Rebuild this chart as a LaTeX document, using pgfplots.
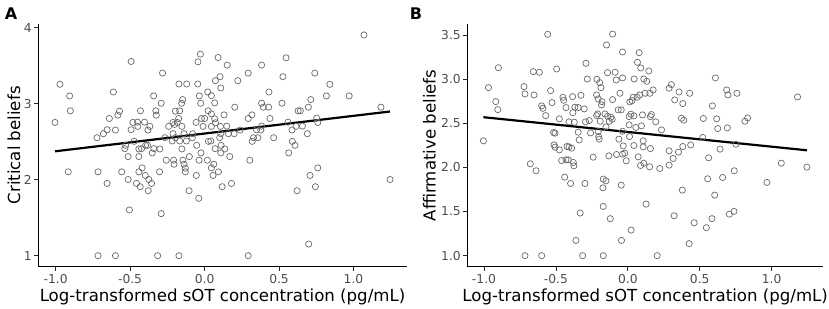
\documentclass[border=0pt]{standalone}
\usepackage{pgfplots}
\pgfplotsset{compat=1.18}
\usepackage{fontspec}
\setmainfont{DejaVu Sans}
\definecolor{ptcol}{RGB}{105,105,105}
\definecolor{tickcol}{RGB}{77,77,77}
\pgfplotsset{
  myaxis/.style={
    scale only axis, anchor=south west,
    axis x line*=bottom, axis y line*=left,
    axis line style={-, black, line width=0.8pt},
    tick align=outside, major tick length=4pt,
    tick style={black!85, line width=0.8pt},
    xmin=-1.116, xmax=1.357,
    xtick={-1,-0.5,0,0.5,1},
    xticklabels={-1.0,-0.5,0.0,0.5,1.0},
    tick label style={font=\fontsize{12.3}{13}\selectfont, text=tickcol},
    yticklabel style={xshift=1pt},
    label style={font=\fontsize{16.6}{17}\selectfont},
    xlabel={Log-transformed sOT concentration (pg/mL)},
    xlabel style={at={(axis description cs:0.5,0)}, anchor=center, yshift=-30pt},
  },
  pts/.style={only marks, mark=o, mark size=3.1pt, mark options={draw=ptcol, line width=0.7pt}},
}
\begin{document}
\begin{tikzpicture}
\path[use as bounding box] (0,0) rectangle (829pt,308pt);
\node[font=\fontsize{16}{16}\selectfont\bfseries] at (11pt,294pt) {A};
\node[font=\fontsize{16}{16}\selectfont\bfseries] at (416pt,294pt) {B};
\begin{axis}[myaxis,
  at={(38.3pt,41.3pt)}, width=368.4pt, height=242.7pt,
  ymin=0.855, ymax=4.05, ytick={1,2,3,4}, yticklabels={1,2,3,4},
  ylabel={Critical beliefs},
  ylabel style={at={(axis description cs:-0.0660,0.5)}, anchor=center},
]
\addplot[pts] coordinates {
(-0.028,3.653) (-0.044,3.552) (0.091,3.609) (-0.493,3.557) (-0.282,3.404) (0.104,3.356) (0.073,3.304)
(-0.971,3.256) (-0.612,3.155) (-0.906,3.103) (-0.172,3.260) (-0.120,3.260) (-0.046,3.260) (0.109,3.208)
(-0.342,3.103) (0.021,3.155) (-0.035,3.103) (0.046,3.107) (-0.147,3.055) (-0.154,3.007) (-0.026,3.007)
(-0.291,3.007) (0.068,3.011) (-0.901,2.907) (-0.571,2.902) (-0.582,2.850) (-0.639,2.806) (-0.430,2.907)
(-0.327,2.907) (-0.324,2.850) (-0.196,2.902) (-0.167,2.907) (0.024,2.907) (0.046,2.867) (-0.021,2.806)
(0.001,2.806) (0.068,2.802) (-0.174,2.806) (-1.004,2.754) (-0.481,2.754) (-0.450,2.758) (-0.403,2.758)
(-0.448,2.702) (-0.493,2.658) (-0.367,2.702) (-0.212,2.754) (-0.201,2.728) (-0.183,2.754) (-0.152,2.702)
(-0.241,2.702) (-0.057,2.754) (-0.010,2.702) (0.046,2.702) (0.073,2.750) (0.107,2.702) (-0.654,2.658)
(-0.598,2.654) (-0.679,2.606) (-0.722,2.553) (-0.380,2.654) (-0.080,2.606) (-0.138,2.606) (-0.212,2.606)
(0.109,2.606) (-0.266,2.553) (-0.196,2.553) (-0.082,2.553) (0.026,2.505) (0.042,2.510) (0.102,2.553)
(-0.473,2.505) (-0.217,2.510) (-0.167,2.510) (-0.122,2.510) (0.111,2.453) (-0.529,2.453) (-0.535,2.409)
(-0.340,2.409) (-0.300,2.405) (-0.441,2.405) (-0.423,2.409) (-0.396,2.453) (-0.383,2.453) (-0.152,2.405)
(-0.053,2.453) (0.071,2.409) (0.109,2.353) (-0.513,2.305) (-0.441,2.305) (-0.351,2.353) (-0.024,2.353)
(-0.102,2.305) (-0.208,2.257) (-0.257,2.257) (-0.145,2.257) (-0.037,2.257) (0.019,2.257) (0.062,2.204)
(-0.915,2.104) (-0.715,2.104) (-0.556,2.104) (-0.419,2.156) (-0.441,2.104) (-0.302,2.104) (-0.205,2.204)
(-0.138,2.204) (-0.129,2.152) (-0.129,2.104) (0.046,2.156) (0.093,2.104) (0.057,2.056) (-0.654,1.951)
(-0.513,2.003) (-0.457,1.951) (-0.398,2.056) (-0.374,2.003) (-0.356,1.951) (-0.432,1.908) (-0.378,1.855)
(-0.055,2.056) (-0.104,1.855) (-0.039,1.755) (0.118,1.908) (-0.504,1.602) (-0.291,1.554)
(-0.715,1.0) (-0.598,1.0) (-0.315,1.0) (-0.172,1.0)
(1.070,3.906) (0.547,3.605) (0.152,3.509) (0.383,3.509) (0.293,3.404) (0.740,3.404) (0.223,3.304)
(0.526,3.356) (0.841,3.256) (0.432,3.155) (0.818,3.103) (0.971,3.103) (0.713,3.055) (0.383,3.007)
(0.520,3.007) (0.203,2.955) (0.394,2.955) (0.430,2.955) (0.697,2.955) (1.184,2.955) (0.628,2.907)
(0.643,2.907) (0.131,2.854) (0.318,2.854) (0.293,2.806) (0.439,2.806) (0.753,2.811) (0.760,2.754)
(0.560,2.758) (0.149,2.706) (0.383,2.706) (0.657,2.706) (0.614,2.702) (0.587,2.654) (0.349,2.658)
(0.378,2.654) (0.239,2.654) (0.160,2.606) (0.199,2.606) (0.690,2.606) (0.329,2.553) (0.358,2.553)
(0.464,2.553) (0.320,2.505) (0.589,2.505) (0.607,2.453) (0.136,2.405) (0.169,2.305) (0.565,2.353)
(0.304,2.257) (0.760,2.156) (0.708,2.056) (0.181,1.951) (0.744,1.908) (0.621,1.855) (1.245,2.003)
(0.699,1.153) (0.293,1.0)
};
\addplot[black, line width=2.2pt] coordinates {(-1.004,2.374) (1.245,2.898)};
\end{axis}
\begin{axis}[myaxis,
  at={(467.3pt,41.3pt)}, width=355.7pt, height=242.7pt,
  ymin=0.875, ymax=3.625, ytick={1,1.5,2,2.5,3,3.5}, yticklabels={1.0,1.5,2.0,2.5,3.0,3.5},
  ylabel={Affirmative beliefs},
  ylabel style={at={(axis description cs:-0.1063,0.5)}, anchor=center},
]
\addplot[pts] coordinates {
(-0.557,3.508) (-0.106,3.511) (-0.148,3.387) (-0.900,3.130) (-0.657,3.085) (-0.615,3.078) (-0.495,3.115)
(-0.291,3.179) (-0.969,2.904) (-0.722,2.916) (-0.715,2.833) (-0.652,2.821) (-0.282,3.002) (-0.215,2.998)
(-0.196,2.961) (-0.187,2.904) (-0.141,3.074) (-0.088,3.078) (-0.081,2.991) (-0.055,2.840) (-0.918,2.746)
(-0.904,2.655) (-0.599,2.697) (-0.590,2.670) (-0.571,2.587) (-0.537,2.870) (-0.527,2.735) (-0.451,2.795)
(-0.446,2.761) (-0.384,2.802) (-0.326,2.817) (-0.430,2.678) (-0.368,2.682) (-0.345,2.678) (-0.382,2.621)
(-0.303,2.663) (-0.217,2.821) (-0.206,2.776) (-0.180,2.746) (-0.183,2.708) (-0.106,2.768) (-0.476,2.550)
(-0.409,2.516) (-0.372,2.512) (-0.294,2.516) (-0.268,2.531) (-0.217,2.587) (-0.210,2.606) (-0.192,2.523)
(-0.159,2.606) (-0.141,2.580) (-0.109,2.546) (-0.067,2.652) (-0.516,2.395) (-0.506,2.388) (-0.345,2.399)
(-0.259,2.391) (-0.206,2.406) (-0.203,2.350) (-0.199,2.320) (-0.152,2.459) (-0.129,2.523) (-0.118,2.569)
(-0.062,2.320) (-1.004,2.301) (-0.513,2.255) (-0.506,2.229) (-0.476,2.199) (-0.423,2.237) (-0.409,2.233)
(-0.391,2.218) (-0.338,2.312) (-0.460,2.078) (-0.430,2.086) (-0.414,2.086) (-0.379,2.056) (-0.375,2.018)
(-0.241,2.116) (-0.132,2.131) (-0.079,2.146) (-0.678,2.041) (-0.638,1.962) (-0.439,1.890) (-0.398,1.818)
(-0.298,1.818) (-0.171,1.867) (-0.152,1.848) (-0.173,1.769) (-0.331,1.483) (-0.171,1.558) (-0.122,1.419)
(-0.361,1.173) (-0.715,1.0) (-0.599,1.0) (-0.314,1.0) (-0.171,1.0)
(-0.037,3.308) (0.079,3.300) (0.067,3.191) (0.090,3.127) (0.146,3.093) (-0.037,3.014) (0.044,3.002)
(0.111,3.002) (0.132,2.976) (0.609,3.014) (0.303,2.938) (0.287,2.897) (0.356,2.855) (0.430,2.840)
(0.687,2.878) (0.696,2.821) (0.759,2.840) (0.176,2.878) (0.153,2.840) (0.120,2.840) (0.083,2.821)
(1.180,2.799) (0.037,2.795) (0.030,2.757) (0.065,2.795) (0.014,2.742) (0.326,2.765) (0.382,2.723)
(0.588,2.697) (-0.046,2.652) (0.021,2.603) (0.042,2.584) (0.102,2.595) (0.164,2.599) (0.157,2.576)
(0.009,2.576) (0.373,2.557) (0.389,2.535) (0.525,2.554) (0.618,2.550) (0.833,2.561) (0.814,2.523)
(0.194,2.516) (0.095,2.471) (0.009,2.482) (0.056,2.452) (0.234,2.425) (0.625,2.440) (0.692,2.448)
(-0.037,2.410) (0.012,2.350) (0.042,2.248) (0.107,2.301) (0.107,2.233) (0.157,2.214) (-0.032,2.244)
(-0.021,2.161) (-0.037,2.150) (-0.011,2.075) (0.072,2.120) (0.111,2.048) (0.088,2.022) (0.151,2.007)
(0.222,1.988) (0.287,2.026) (0.315,2.101) (0.287,2.188) (0.352,2.173) (0.382,2.237) (0.437,2.255)
(0.521,2.339) (0.641,2.207) (0.752,2.263) (0.562,2.109) (1.067,2.048) (1.245,2.003) (-0.046,1.799)
(0.555,1.871) (0.659,1.886) (0.740,1.962) (0.967,1.830) (0.379,1.743) (0.604,1.686) (0.127,1.584)
(0.322,1.452) (0.461,1.373) (0.546,1.317) (0.585,1.419) (0.706,1.471) (0.738,1.502) (0.023,1.290)
(-0.044,1.173) (0.426,1.136) (0.204,1.0)
};
\addplot[black, line width=2.2pt] coordinates {(-1.004,2.569) (1.245,2.194)};
\end{axis}
\end{tikzpicture}
\end{document}
